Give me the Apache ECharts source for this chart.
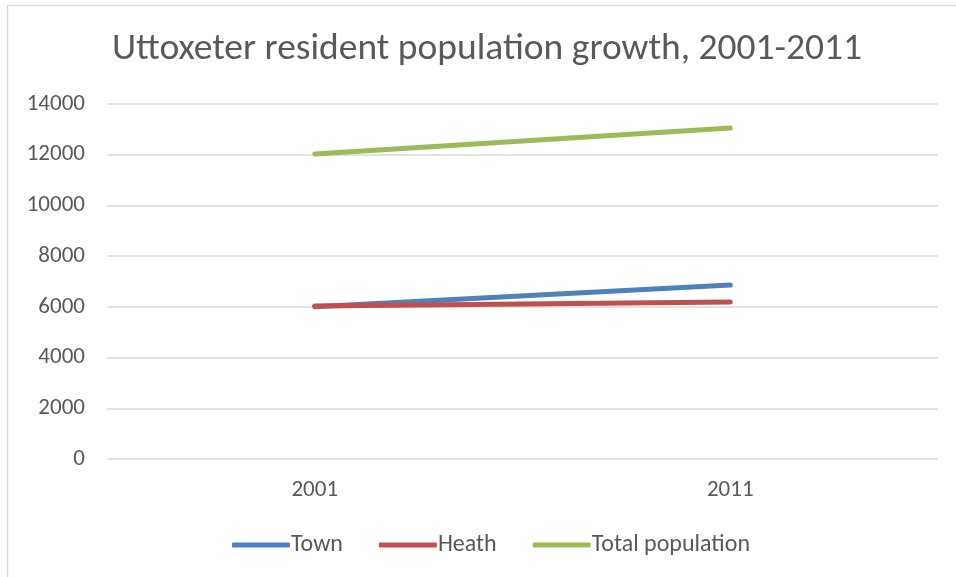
<!DOCTYPE html>
<html>
<head>
<meta charset="utf-8">
<script src="https://cdn.jsdelivr.net/npm/echarts@6/dist/echarts.min.js"></script>
<style>
  html, body { margin: 0; padding: 0; background: #fff; }
  #chart { width: 956px; height: 577px; }
</style>
</head>
<body>
<div id="chart"></div>
<script>
// Census years and resident counts
const years = ['2001', '2011'];
const town = [6000, 6860];
const heath = [6030, 6190];
const totalPopulation = [12030, 13050];

const seriesNames = ['Town', 'Heath', 'Total population'];
const seriesColors = ['#4f81bd', '#c0504d', '#9bbb59'];
const seriesData = [town, heath, totalPopulation];

const chart = echarts.init(document.getElementById('chart'), null, { renderer: 'canvas' });

const font = 'Calibri, Carlito, "Open Sans", "Noto Sans", sans-serif';
const textColor = '#595959';

chart.setOption({
  animation: false,
  backgroundColor: '#ffffff',
  title: {
    text: 'Uttoxeter resident population growth, 2001-2011',
    left: 482,
    top: 26,
    textAlign: 'center',
    textStyle: { fontFamily: font, fontSize: 37.5, fontWeight: 'normal', color: textColor }
  },
  graphic: [{
    type: 'rect',
    shape: { x: 7.5, y: 5.5, width: 1000, height: 1000 },
    style: { fill: 'none', stroke: '#d9d9d9', lineWidth: 1.5 },
    silent: true
  }],
  legend: {
    top: 528,
    left: 227,
    itemWidth: 58,
    itemHeight: 5,
    itemGap: 36,
    icon: 'roundRect',
    textStyle: { fontFamily: font, fontSize: 24, color: textColor, padding: [0, 0, 0, -4] },
    data: seriesNames
  },
  grid: { left: 107, right: 18, top: 104, bottom: 118, containLabel: false },
  xAxis: {
    type: 'category',
    data: years,
    boundaryGap: true,
    axisLine: { show: false },
    axisTick: { show: false },
    axisLabel: { fontFamily: font, fontSize: 23, color: textColor, margin: 20 }
  },
  yAxis: {
    type: 'value',
    min: 0,
    max: 14000,
    interval: 2000,
    axisLine: { show: false },
    axisTick: { show: false },
    axisLabel: {
      fontFamily: font, fontSize: 23, color: textColor, margin: 22,
      formatter: (v) => String(v)
    },
    splitLine: { lineStyle: { color: '#d9d9d9', width: 1.5 } }
  },
  series: seriesNames.map((name, i) => ({
    name: name,
    type: 'line',
    data: seriesData[i],
    symbol: 'none',
    color: seriesColors[i],
    lineStyle: { width: 5, cap: 'round', color: seriesColors[i] }
  }))
});
</script>
</body>
</html>
